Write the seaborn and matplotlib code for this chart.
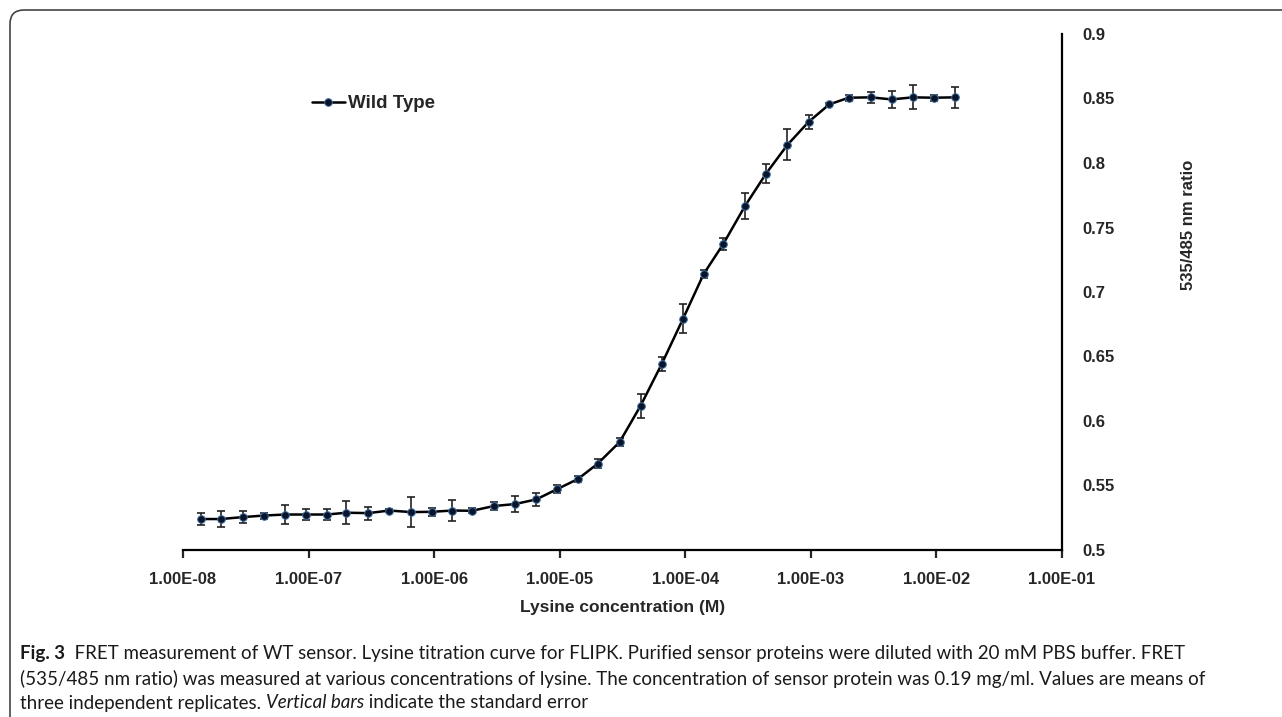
import numpy as np
import pandas as pd
import matplotlib
matplotlib.use("Agg")
import matplotlib.pyplot as plt
import matplotlib.ticker as mticker
from matplotlib.patches import FancyBboxPatch
from matplotlib.transforms import IdentityTransform
import seaborn as sns

# lysine concentration (M)
conc = [
    1.4e-8, 2.0e-8, 3.0e-8, 4.4e-8, 6.5e-8, 9.6e-8,
    1.4e-7, 2.0e-7, 3.0e-7, 4.4e-7, 6.5e-7, 9.6e-7,
    1.4e-6, 2.0e-6, 3.0e-6, 4.4e-6, 6.5e-6, 9.6e-6,
    1.4e-5, 2.0e-5, 3.0e-5, 4.4e-5, 6.5e-5, 9.6e-5,
    1.4e-4, 2.0e-4, 3.0e-4, 4.4e-4, 6.5e-4, 9.6e-4,
    1.4e-3, 2.0e-3, 3.0e-3, 4.4e-3, 6.5e-3, 9.6e-3,
    1.4e-2,
]

# 535/485 nm ratio (mean)
ratio = [
    0.524, 0.524, 0.5255, 0.5267, 0.5275, 0.5275,
    0.5275, 0.5289, 0.5286, 0.5306, 0.5294, 0.5296,
    0.5306, 0.5304, 0.5341, 0.5356, 0.5392, 0.5473,
    0.5551, 0.5668, 0.5837, 0.6117, 0.6443, 0.6793,
    0.7139, 0.737, 0.7669, 0.7918, 0.814, 0.8319,
    0.8454, 0.8506, 0.8509, 0.8493, 0.8509, 0.8506,
    0.8509,
]

# standard error
sem = [
    0.0047, 0.0062, 0.0047, 0.0023, 0.007, 0.0043,
    0.0043, 0.0091, 0.005, 0.001, 0.0114, 0.003,
    0.0082, 0.0018, 0.0033, 0.0061, 0.0048, 0.0029,
    0.0026, 0.0036, 0.0033, 0.0091, 0.0056, 0.0114,
    0.0032, 0.0045, 0.01, 0.0075, 0.012, 0.0056,
    0.001, 0.0023, 0.0045, 0.0065, 0.0094, 0.0022,
    0.008,
]

x_ticks = [1e-8, 1e-7, 1e-6, 1e-5, 1e-4, 1e-3, 1e-2, 1e-1]
y_ticks = [0.5, 0.55, 0.6, 0.65, 0.7, 0.75, 0.8, 0.85, 0.9]

caption = [
    [("Fig. 3", "bold", "normal"),
     ("  FRET measurement of WT sensor. Lysine titration curve for FLIPK. "
      "Purified sensor proteins were diluted with 20 mM PBS buffer. FRET",
      "normal", "normal")],
    [("(535/485 nm ratio) was measured at various concentrations of lysine. "
      "The concentration of sensor protein was 0.19 mg/ml. Values are means of",
      "normal", "normal")],
    [("three independent replicates. ", "normal", "normal"),
     ("Vertical bars", "normal", "italic"),
     (" indicate the standard error", "normal", "normal")],
]

df = pd.DataFrame({"conc": conc, "ratio": ratio, "sem": sem})

W, H = 1282, 717
sns.set_style("ticks")
plt.rcParams["font.family"] = ["Liberation Sans", "DejaVu Sans"]

fig = plt.figure(figsize=(W / 100, H / 100), dpi=100)
ax = fig.add_axes([183 / W, 1 - 550 / H, (1062 - 183) / W, (550 - 34) / H])

ax.errorbar(
    df["conc"], df["ratio"], yerr=df["sem"],
    fmt="none", ecolor="#222222", elinewidth=1.2,
    capsize=3, capthick=1.2, zorder=2
)

sns.lineplot(
    data=df, x="conc", y="ratio",
    color="black", linewidth=1.8,
    marker="o", markersize=5.5,
    markerfacecolor="#0a1428", markeredgecolor="#3f6fa3",
    markeredgewidth=0.7, label="Wild Type", ax=ax, zorder=3
)

ax.set_xscale("log")
ax.set_xlim(1e-8, 1e-1)
ax.set_ylim(0.5, 0.9)
ax.set_xticks(x_ticks)
ax.xaxis.set_minor_locator(mticker.NullLocator())
ax.xaxis.set_major_formatter(mticker.FuncFormatter(lambda v, p: f"{v:.2E}"))
ax.set_yticks(y_ticks)
ax.yaxis.set_major_formatter(mticker.FuncFormatter(lambda v, p: f"{v:g}"))

ax.yaxis.tick_right()
ax.yaxis.set_label_position("right")
sns.despine(ax=ax, left=True, top=True, right=False)
for side in ["bottom", "right"]:
    ax.spines[side].set_linewidth(1.6)
    ax.spines[side].set_color("black")

ax.tick_params(axis="x", direction="out", length=6, width=1.6, pad=10,
               labelsize=12)
ax.tick_params(axis="y", direction="out", length=5, width=1.6, pad=10,
               labelsize=12)
for lab in ax.get_xticklabels() + ax.get_yticklabels():
    lab.set_fontweight("bold")

ax.set_xlabel("Lysine concentration (M)", fontsize=12.5, fontweight="bold")
ax.xaxis.set_label_coords(0.5, -0.097)
ax.set_ylabel("535/485 nm ratio", fontsize=12, fontweight="bold",
              rotation=90)
ax.yaxis.set_label_coords(1.135, 0.63)

ax.legend(
    loc="center left", bbox_to_anchor=(0.127, 0.865), frameon=False,
    handlelength=1.8, handletextpad=0.15,
    prop={"weight": "bold", "size": 13.5}
)

# caption under the chart
renderer = fig.canvas.get_renderer()
line_y = [654, 679, 703]
for pieces, y in zip(caption, line_y):
    x = 20
    for text, weight, style in pieces:
        t = fig.text(x / W, 1 - y / H, text, fontsize=13.5, family="Lato",
                     fontweight=weight, fontstyle=style, va="center",
                     color="#1a1a1a")
        x += t.get_window_extent(renderer).width

# rounded frame round the whole figure
frame = FancyBboxPatch(
    (10, -40), 1320, H - 10 + 40,
    boxstyle="round,pad=0,rounding_size=14",
    transform=IdentityTransform(), fill=False,
    edgecolor="#444444", linewidth=1.2
)
fig.patches.append(frame)

fig.savefig("out.png", dpi=100)
